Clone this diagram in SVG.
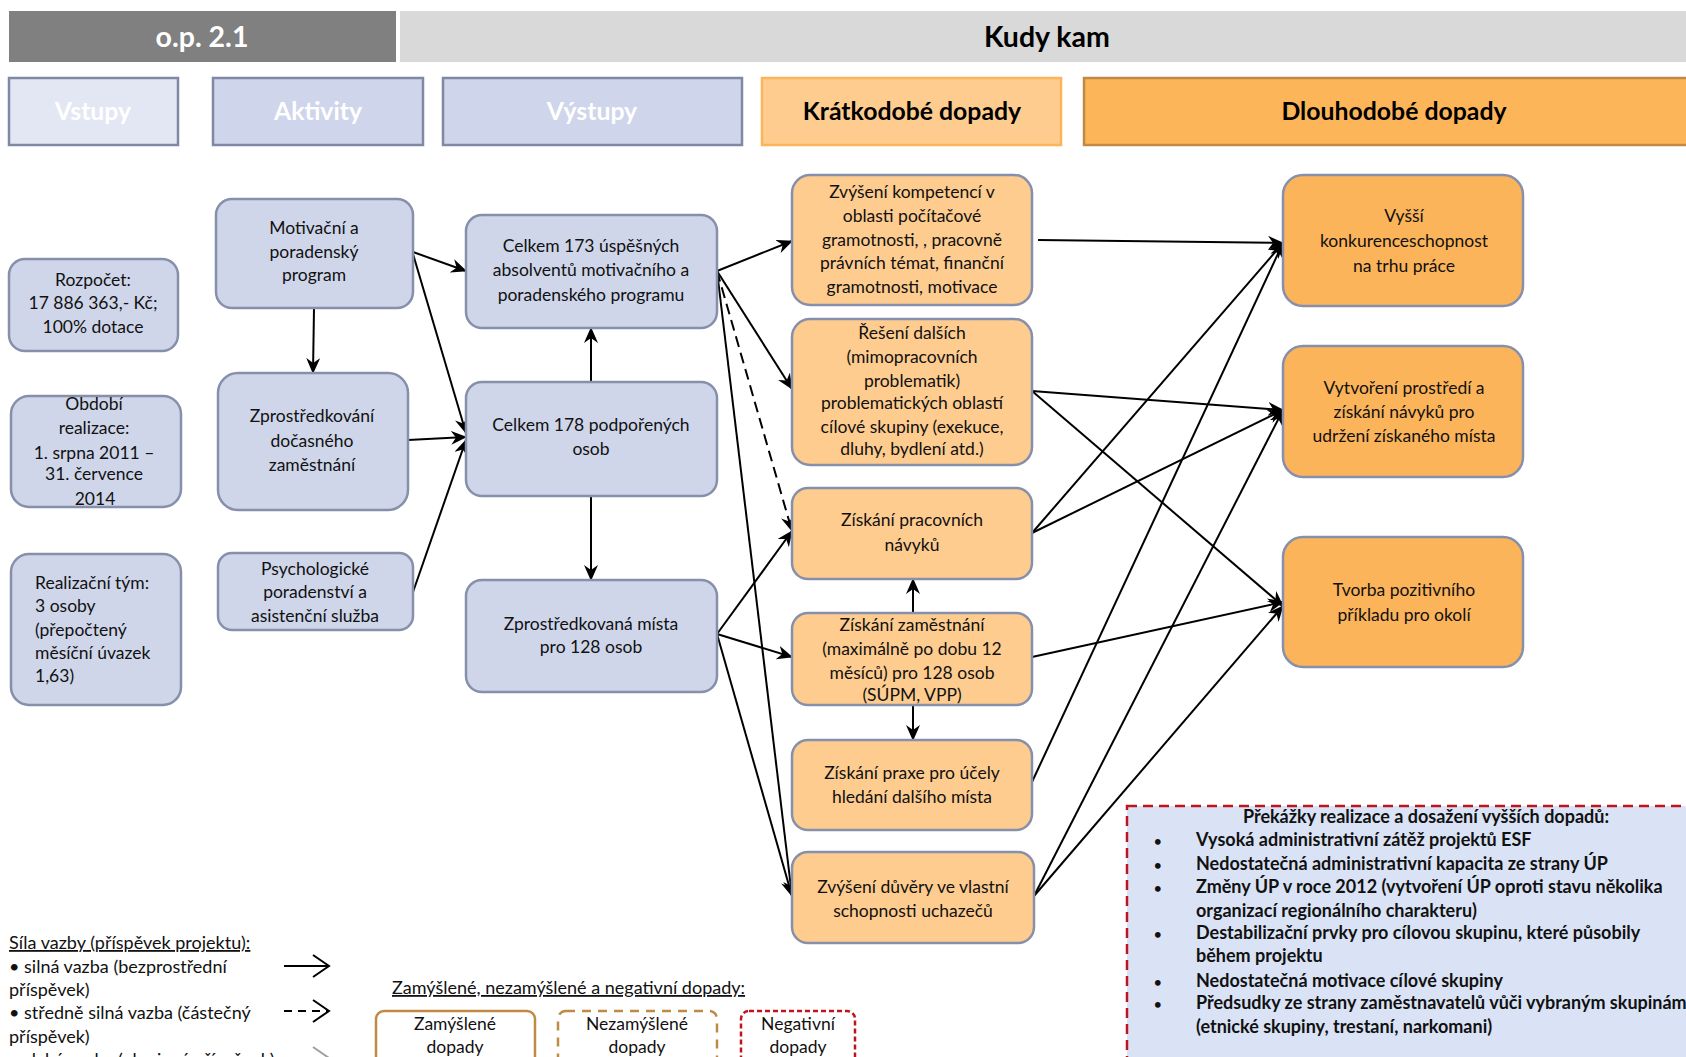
<svg xmlns="http://www.w3.org/2000/svg" width="1686" height="1057" viewBox="0 0 1686 1057">
<defs>
<style>
text{font-family:Lato,"Open Sans","Liberation Sans",sans-serif;font-size:17.5px;fill:#111;}
.c{text-anchor:middle;}
.hd{font-weight:bold;font-size:24.8px;fill:#fff;text-anchor:middle;}
.hdk{font-weight:bold;font-size:24.8px;fill:#000;text-anchor:middle;}
.top{font-weight:bold;font-size:28.5px;text-anchor:middle;}
.blue{fill:#CFD6EA;stroke:#8790AB;stroke-width:2.5;}
.lor{fill:#FECC8F;stroke:#8790AB;stroke-width:2.5;}
.dor{fill:#FCB45A;stroke:#8790AB;stroke-width:2.5;}
.cn{stroke:#000;stroke-width:2;fill:none;marker-end:url(#ah);}
.ob{font-weight:bold;font-size:18px;}
.lg{font-size:18px;}
.u{text-decoration:underline;}
</style>
<marker id="ah" viewBox="0 0 16 14" refX="15" refY="7" markerWidth="16" markerHeight="14" markerUnits="userSpaceOnUse" orient="auto">
<path d="M0,0 L16,7 L0,14 L5,7 z" fill="#000"/>
</marker>
</defs>

<g id="header">
<rect x="9" y="11" width="387" height="51" fill="#808080"/>
<text class="top" x="202" y="47" style="fill:#fff">o.p. 2.1</text>
<rect x="400" y="11" width="1286" height="51" fill="#D9D9D9"/>
<text class="top" x="1047" y="47" style="fill:#000">Kudy kam</text>
</g>

<g id="col-headers">
<g id="h-vstupy"><rect x="9" y="78" width="169" height="67" fill="#E3E7F3" stroke="#8088A6" stroke-width="2.5"/><text class="hd" x="93" y="120">Vstupy</text></g>
<g id="h-aktivity"><rect x="213" y="78" width="210" height="67" fill="#CFD5EA" stroke="#8088A6" stroke-width="2.5"/><text class="hd" x="318" y="120">Aktivity</text></g>
<g id="h-vystupy"><rect x="443" y="78" width="299" height="67" fill="#CFD5EA" stroke="#8088A6" stroke-width="2.5"/><text class="hd" x="592" y="120">Výstupy</text></g>
<g id="h-kratko"><rect x="762" y="78" width="299" height="67" fill="#FFCC8F" stroke="#FAB45A" stroke-width="2.5"/><text class="hdk" x="912" y="120">Krátkodobé dopady</text></g>
<g id="h-dlouho"><rect x="1084" y="78" width="620" height="67" fill="#FDB55A" stroke="#C08A45" stroke-width="2.5"/><text class="hdk" x="1394" y="120">Dlouhodobé dopady</text></g>
</g>

<g id="connectors">
<line class="cn" x1="413" y1="252" x2="466" y2="271"/>
<line class="cn" x1="413" y1="254" x2="466" y2="433"/>
<line class="cn" x1="314" y1="308" x2="313" y2="373"/>
<line class="cn" x1="408" y1="440" x2="466" y2="437"/>
<line class="cn" x1="413" y1="592" x2="466" y2="440"/>
<line class="cn" x1="591" y1="382" x2="591" y2="328"/>
<line class="cn" x1="591" y1="496" x2="591" y2="580"/>
<line class="cn" x1="717" y1="271" x2="792" y2="241"/>
<line class="cn" x1="717" y1="271" x2="792" y2="389"/>
<line class="cn" x1="717" y1="271" x2="792" y2="531" stroke-dasharray="11,6"/>
<line class="cn" x1="717" y1="271" x2="792" y2="896"/>
<line class="cn" x1="717" y1="634" x2="792" y2="531"/>
<line class="cn" x1="717" y1="634" x2="792" y2="657"/>
<line class="cn" x1="717" y1="634" x2="792" y2="896"/>
<line class="cn" x1="913" y1="613" x2="913" y2="579"/>
<line class="cn" x1="913" y1="705" x2="913" y2="740"/>
<line class="cn" x1="1038" y1="240" x2="1283" y2="243"/>
<line class="cn" x1="1032" y1="391" x2="1283" y2="410"/>
<line class="cn" x1="1032" y1="391" x2="1283" y2="606"/>
<line class="cn" x1="1032" y1="533" x2="1283" y2="243"/>
<line class="cn" x1="1032" y1="533" x2="1283" y2="410"/>
<line class="cn" x1="1032" y1="657" x2="1283" y2="602"/>
<line class="cn" x1="1032" y1="782" x2="1283" y2="243"/>
<line class="cn" x1="1034" y1="896" x2="1283" y2="410"/>
<line class="cn" x1="1034" y1="896" x2="1283" y2="606"/>
</g>

<g id="n-rozpocet"><rect class="blue" x="9" y="259" width="169" height="92" rx="16"/>
<text class="c" x="93" y="286">Rozpočet:</text><text class="c" x="93" y="309">17 886 363,- Kč;</text><text class="c" x="93" y="333">100% dotace</text></g>
<g id="n-obdobi"><rect class="blue" x="11" y="396" width="170" height="111" rx="18"/>
<text class="c" x="94" y="410">Období</text><text class="c" x="94" y="434">realizace:</text><text class="c" x="94" y="459">1. srpna 2011 –</text><text class="c" x="94" y="480">31. července</text><text class="c" x="95" y="505">2014</text></g>
<g id="n-tym"><rect class="blue" x="11" y="554" width="170" height="151" rx="18"/>
<text x="35" y="589">Realizační tým:</text><text x="35" y="612">3 osoby</text><text x="35" y="636">(přepočtený</text><text x="35" y="659">měsíční úvazek</text><text x="35" y="682">1,63)</text></g>

<g id="n-motivacni"><rect class="blue" x="216" y="199" width="197" height="109" rx="16"/>
<text class="c" x="314" y="234">Motivační a</text><text class="c" x="314" y="258">poradenský</text><text class="c" x="314" y="281">program</text></g>
<g id="n-zprostredkovani"><rect class="blue" x="218" y="373" width="190" height="137" rx="20"/>
<text class="c" x="312" y="422">Zprostředkování</text><text class="c" x="312" y="447">dočasného</text><text class="c" x="312" y="471">zaměstnání</text></g>
<g id="n-psycho"><rect class="blue" x="218" y="553" width="195" height="77" rx="14"/>
<text class="c" x="315" y="575">Psychologické</text><text class="c" x="315" y="598">poradenství a</text><text class="c" x="315" y="622">asistenční služba</text></g>

<g id="n-celkem173"><rect class="blue" x="466" y="215" width="251" height="113" rx="16"/>
<text class="c" x="591" y="252">Celkem 173 úspěšných</text><text class="c" x="591" y="276">absolventů motivačního a</text><text class="c" x="591" y="301">poradenského programu</text></g>
<g id="n-celkem178"><rect class="blue" x="466" y="382" width="251" height="114" rx="16"/>
<text class="c" x="591" y="431">Celkem 178 podpořených</text><text class="c" x="591" y="455">osob</text></g>
<g id="n-mista"><rect class="blue" x="466" y="580" width="251" height="112" rx="16"/>
<text class="c" x="591" y="630">Zprostředkovaná místa</text><text class="c" x="591" y="653">pro 128 osob</text></g>

<g id="n-kompetence"><rect class="lor" x="792" y="175" width="240" height="130" rx="18"/>
<text class="c" x="912" y="198">Zvýšení kompetencí v</text><text class="c" x="912" y="222">oblasti počítačové</text><text class="c" x="912" y="246">gramotnosti, , pracovně</text><text class="c" x="912" y="269">právních témat, finanční</text><text class="c" x="912" y="293">gramotnosti, motivace</text></g>
<g id="n-reseni"><rect class="lor" x="792" y="319" width="240" height="146" rx="18"/>
<text class="c" x="912" y="339">Řešení dalších</text><text class="c" x="912" y="363">(mimopracovních</text><text class="c" x="912" y="387">problematik)</text><text class="c" x="912" y="409">problematických oblastí</text><text class="c" x="912" y="433">cílové skupiny (exekuce,</text><text class="c" x="912" y="455">dluhy, bydlení atd.)</text></g>
<g id="n-navyky"><rect class="lor" x="792" y="488" width="240" height="91" rx="16"/>
<text class="c" x="912" y="526">Získání pracovních</text><text class="c" x="912" y="551">návyků</text></g>
<g id="n-zamestnani"><rect class="lor" x="792" y="613" width="240" height="92" rx="16"/>
<text class="c" x="912" y="631">Získání zaměstnání</text><text class="c" x="912" y="655">(maximálně po dobu 12</text><text class="c" x="912" y="679">měsíců) pro 128 osob</text><text class="c" x="912" y="701">(SÚPM, VPP)</text></g>
<g id="n-praxe"><rect class="lor" x="792" y="740" width="240" height="90" rx="16"/>
<text class="c" x="912" y="779">Získání praxe pro účely</text><text class="c" x="912" y="803">hledání dalšího místa</text></g>
<g id="n-duvera"><rect class="lor" x="792" y="852" width="242" height="91" rx="16"/>
<text class="c" x="913" y="893">Zvýšení důvěry ve vlastní</text><text class="c" x="913" y="917">schopnosti uchazečů</text></g>

<g id="n-vyssi"><rect class="dor" x="1283" y="175" width="240" height="131" rx="20"/>
<text class="c" x="1404" y="222">Vyšší</text><text class="c" x="1404" y="247">konkurenceschopnost</text><text class="c" x="1404" y="272">na trhu práce</text></g>
<g id="n-vytvoreni"><rect class="dor" x="1283" y="346" width="240" height="131" rx="20"/>
<text class="c" x="1404" y="394">Vytvoření prostředí a</text><text class="c" x="1404" y="418">získání návyků pro</text><text class="c" x="1404" y="442">udržení získaného místa</text></g>
<g id="n-tvorba"><rect class="dor" x="1283" y="537" width="240" height="130" rx="20"/>
<text class="c" x="1404" y="596">Tvorba pozitivního</text><text class="c" x="1404" y="621">příkladu pro okolí</text></g>

<g id="obstacles">
<rect x="1127" y="806" width="580" height="262" fill="#DAE3F6" stroke="#C0141C" stroke-width="2.5" stroke-dasharray="10,6"/>
<text class="ob c" x="1426" y="823">Překážky realizace a dosažení vyšších dopadů:</text>
<text class="ob" x="1154" y="846" style="font-size:13px">•</text><text class="ob" x="1196" y="846">Vysoká administrativní zátěž projektů ESF</text>
<text class="ob" x="1154" y="870" style="font-size:13px">•</text><text class="ob" x="1196" y="870">Nedostatečná administrativní kapacita ze strany ÚP</text>
<text class="ob" x="1154" y="893" style="font-size:13px">•</text><text class="ob" x="1196" y="893">Změny ÚP v roce 2012 (vytvoření ÚP oproti stavu několika</text>
<text class="ob" x="1196" y="917">organizací regionálního charakteru)</text>
<text class="ob" x="1154" y="939" style="font-size:13px">•</text><text class="ob" x="1196" y="939">Destabilizační prvky pro cílovou skupinu, které působily</text>
<text class="ob" x="1196" y="962">během projektu</text>
<text class="ob" x="1154" y="987" style="font-size:13px">•</text><text class="ob" x="1196" y="987">Nedostatečná motivace cílové skupiny</text>
<text class="ob" x="1154" y="1009" style="font-size:13px">•</text><text class="ob" x="1196" y="1009">Předsudky ze strany zaměstnavatelů vůči vybraným skupinám</text>
<text class="ob" x="1196" y="1033">(etnické skupiny, trestaní, narkomani)</text>
</g>

<g id="legend-sila">
<text class="u lg" x="9" y="949">Síla vazby (příspěvek projektu):</text>
<text class="lg" x="9" y="973">• silná vazba (bezprostřední</text>
<text class="lg" x="9" y="996">příspěvek)</text>
<text class="lg" x="9" y="1019">• středně silná vazba (částečný</text>
<text class="lg" x="9" y="1043">příspěvek)</text>
<text class="lg" x="9" y="1066">• slabá vazba (okrajový příspěvek)</text>
<path d="M284,966 L328,966 M313,955 L329,966 L313,977" stroke="#000" stroke-width="2" fill="none"/>
<path d="M284,1011 L328,1011" stroke="#000" stroke-width="2" stroke-dasharray="8,6" fill="none"/>
<path d="M313,1000 L329,1011 L313,1022" stroke="#000" stroke-width="2" fill="none"/>
<path d="M284,1058 L328,1058" stroke="#A0A0A0" stroke-width="2" stroke-dasharray="8,6" fill="none"/>
<path d="M313,1047 L329,1058 L313,1069" stroke="#A0A0A0" stroke-width="2" fill="none"/>
</g>

<g id="legend-dopady">
<text class="u lg" x="392" y="994">Zamýšlené, nezamýšlené a negativní dopady:</text>
<rect x="376" y="1011" width="159" height="60" rx="8" fill="none" stroke="#C08A45" stroke-width="2.5"/>
<text class="c" x="455" y="1030">Zamýšlené</text><text class="c" x="455" y="1053">dopady</text>
<rect x="558" y="1011" width="159" height="60" rx="8" fill="none" stroke="#C08A45" stroke-width="2.5" stroke-dasharray="9,7"/>
<text class="c" x="637" y="1030">Nezamýšlené</text><text class="c" x="637" y="1053">dopady</text>
<rect x="741" y="1011" width="114" height="60" rx="8" fill="none" stroke="#C0141C" stroke-width="2.5" stroke-dasharray="5,3"/>
<text class="c" x="798" y="1030">Negativní</text><text class="c" x="798" y="1053">dopady</text>
</g>
</svg>
